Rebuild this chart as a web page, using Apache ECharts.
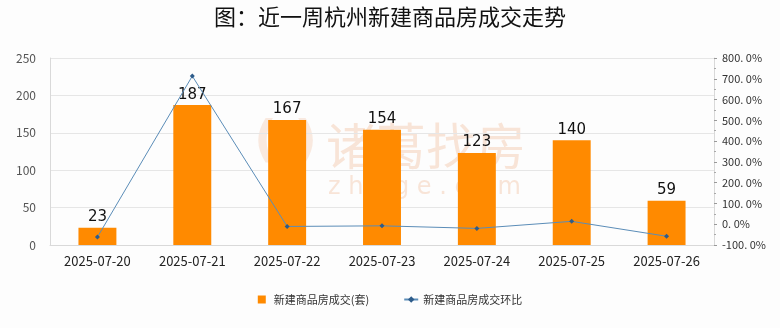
<!DOCTYPE html>
<html>
<head>
<meta charset="utf-8">
<script src="https://cdn.jsdelivr.net/npm/echarts@6/dist/echarts.min.js"></script>
<style>
  html, body { margin: 0; padding: 0; background: #fdfdfd; }
  #chart { width: 780px; height: 328px; }
</style>
</head>
<body>
<div id="chart"></div>
<script>
// Weekly new-home transactions in Hangzhou
const dates = ['2025-07-20', '2025-07-21', '2025-07-22', '2025-07-23', '2025-07-24', '2025-07-25', '2025-07-26'];
const deals = [23, 187, 167, 154, 123, 140, 59];
const momPct = [-62, 713.0, -10.7, -7.8, -20.1, 13.8, -57.9];

const font = '"Noto Sans CJK SC", "Noto Sans", sans-serif';
const wmColor = 'rgba(238,165,120,0.28)';
const chart = echarts.init(document.getElementById('chart'), null, { renderer: 'canvas' });

chart.setOption({
  backgroundColor: '#fdfdfd',
  animation: false,
  title: {
    text: '图：近一周杭州新建商品房成交走势',
    left: 'center',
    top: 1,
    textStyle: { fontFamily: font, fontSize: 22, fontWeight: 'normal', color: '#111' }
  },
  // faint brand watermark behind the bars
  graphic: [
    {
      type: 'text', left: 326, top: 121, z: 0,
      style: { text: '诸葛找房', font: '50px "Noto Sans CJK SC"', fill: wmColor }
    },
    {
      type: 'text', left: 328, top: 176, z: 0,
      style: { text: 'z h u g e . c o m', font: '24px "DejaVu Sans"', fill: wmColor }
    },
    {
      type: 'text', left: 254, top: 118, z: 0,
      style: { text: '( )', font: 'bold 50px "DejaVu Sans"', fill: 'rgba(238,165,120,0.22)' }
    }
  ],
  legend: {
    bottom: 18,
    left: 'center',
    itemGap: 34,
    itemWidth: 14,
    itemHeight: 8,
    textStyle: { fontFamily: font, fontSize: 11, color: '#333' },
    data: [
      { name: '新建商品房成交(套)', icon: 'path://M0,0h10v10h-10z', itemStyle: { color: '#ff8a00' } },
      { name: '新建商品房成交环比' }
    ]
  },
  grid: { left: 50, right: 66, top: 58, bottom: 83 },
  xAxis: {
    type: 'category',
    data: dates,
    axisLine: { lineStyle: { color: '#d9d9d9' } },
    axisTick: { show: false },
    axisLabel: { fontFamily: font, fontSize: 13, color: '#222', margin: 10 }
  },
  yAxis: [
    {
      type: 'value', min: 0, max: 250, interval: 50,
      axisLine: { show: true, lineStyle: { color: '#d9d9d9' } },
      axisTick: { show: false },
      splitLine: { lineStyle: { color: '#e6e6e6' } },
      axisLabel: { fontFamily: font, fontSize: 12, color: '#555', margin: 14 }
    },
    {
      type: 'value', min: -100, max: 800, interval: 100,
      position: 'right',
      axisLine: { show: true, lineStyle: { color: '#d9d9d9' } },
      axisTick: { show: true, inside: false, length: 3, lineStyle: { color: '#999' } },
      minorTick: { show: true, splitNumber: 2, length: 2, lineStyle: { color: '#aaa' } },
      splitLine: { show: false },
      axisLabel: {
        fontFamily: font, fontSize: 11, color: '#333', margin: 8,
        formatter: v => v.toFixed(1).replace('.', '. ') + '%'
      }
    }
  ],
  series: [
    {
      name: '新建商品房成交(套)',
      type: 'bar',
      data: deals,
      barWidth: '40%',
      itemStyle: { color: '#ff8a00' },
      label: {
        show: true, position: 'top', distance: 3,
        fontFamily: '"DejaVu Sans", sans-serif', fontSize: 15, color: '#111'
      }
    },
    {
      name: '新建商品房成交环比',
      type: 'line',
      yAxisIndex: 1,
      data: momPct,
      symbol: 'diamond',
      symbolSize: 5,
      lineStyle: { color: '#5b8db8', width: 1 },
      itemStyle: { color: '#2e5c8a' }
    }
  ]
});
</script>
</body>
</html>
